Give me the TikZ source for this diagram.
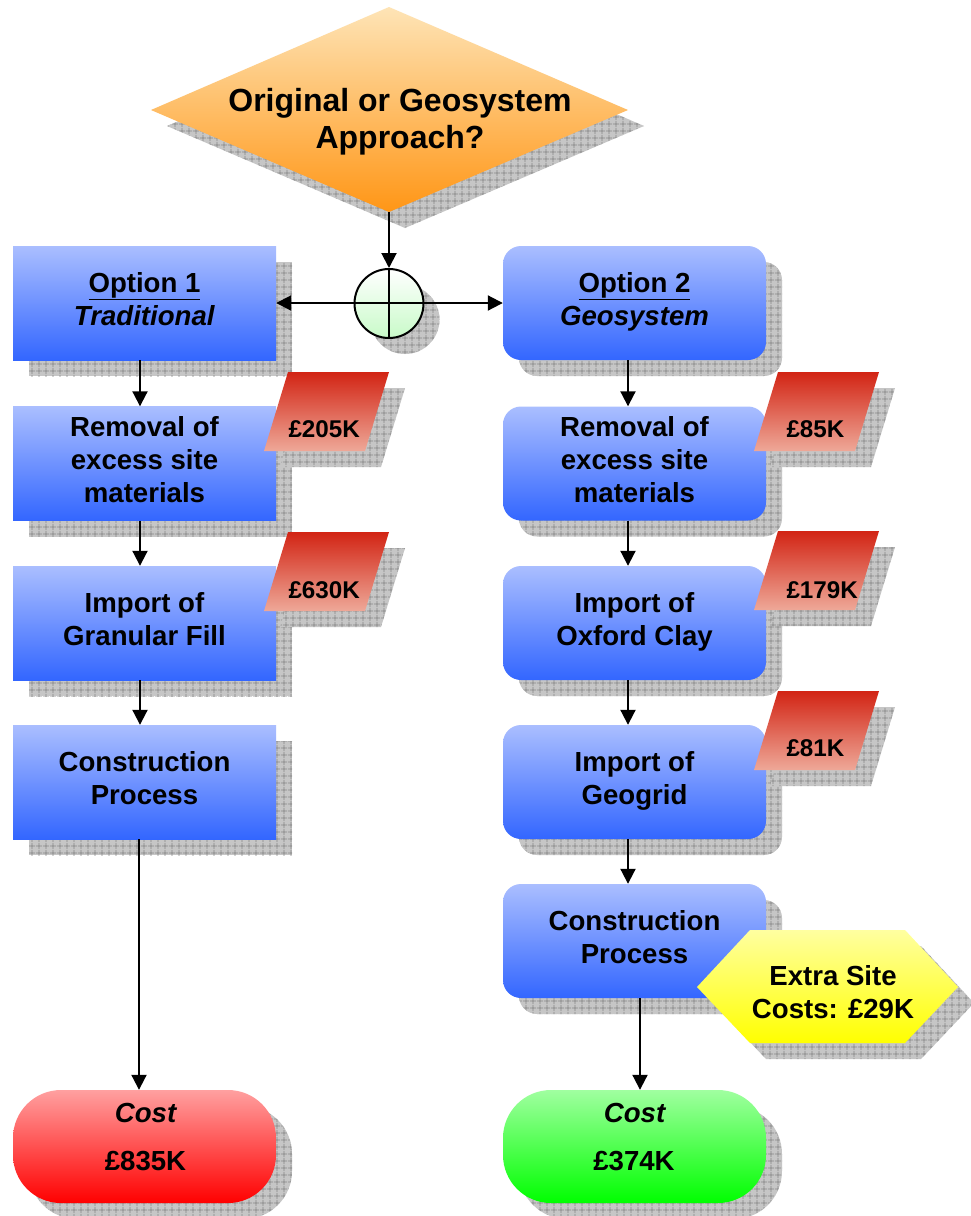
\documentclass[tikz,border=0pt]{standalone}
\usepackage{fontspec}
\setmainfont{Liberation Sans}
\usetikzlibrary{arrows.meta,shadows,patterns.meta}

\definecolor{boxtop}{RGB}{170,190,255}
\definecolor{boxbot}{RGB}{51,102,255}
\definecolor{diatop}{RGB}{254,228,182}
\definecolor{diabot}{RGB}{255,150,22}
\definecolor{partop}{RGB}{210,36,20}
\definecolor{parbot}{RGB}{238,168,152}
\definecolor{redtop}{RGB}{255,160,160}
\definecolor{redbot}{RGB}{255,0,0}
\definecolor{grntop}{RGB}{160,255,160}
\definecolor{grnbot}{RGB}{0,255,0}
\definecolor{hextop}{RGB}{255,255,160}
\definecolor{hexbot}{RGB}{255,255,0}
\definecolor{cirbot}{RGB}{200,250,200}
\definecolor{shadefill}{RGB}{198,198,198}
\definecolor{shadegrid}{RGB}{135,135,135}

\tikzset{
  gridshadow/.style={
    general shadow={shadow xshift=16pt,shadow yshift=-16pt,fill=shadefill},
    general shadow={shadow xshift=16pt,shadow yshift=-16pt,
      pattern={Hatch[angle=0,distance=6.5pt,line width=0.7pt]},pattern color=shadegrid}},
  stepbox/.style={rectangle,minimum width=263pt,minimum height=114pt,inner sep=0pt,
    top color=boxtop,bottom color=boxbot,gridshadow,align=center,
    font=\bfseries\fontsize{27.6}{33}\selectfont,text depth=8pt},
  roundbox/.style={stepbox,rounded corners=18pt},
  costend/.style={rectangle,rounded corners=48pt,minimum width=263pt,
    minimum height=113pt,inner sep=0pt,gridshadow},
  junction/.style={circle,minimum size=69pt,inner sep=0pt,draw,line width=2pt,
    top color=white,bottom color=cirbot,gridshadow},
  tip/.tip={Triangle[width=15pt,length=15pt]},
  flow/.style={line width=2pt,-tip},
  twoway/.style={line width=2pt,tip-tip},
  tagshape/.style={top color=partop,bottom color=parbot,gridshadow},
  tagtext/.style={anchor=base west,font=\bfseries\fontsize{24.2}{28}\selectfont},
  costtext/.style={anchor=base,font=\bfseries\fontsize{27.6}{33}\selectfont},
  pics/costtag/.style={code={
    \path[tagshape] (24,0) -- (125,0) -- (101,79) -- (0,79) -- cycle;}}
}

\begin{document}
\begin{tikzpicture}[x=1pt,y=-1pt]
  \path[use as bounding box,fill=white] (0,0) rectangle (970,1216);

  % decision
  \path[gridshadow,top color=diatop,bottom color=diabot]
    (389,7) -- (628,110) -- (389,212) -- (151,110) -- cycle;
  \node[font=\bfseries\fontsize{32}{37}\selectfont,align=center] (ask) at (400,121.5)
    {Original or Geosystem\\Approach?};
  \coordinate (askbot) at (389,212);

  % junction
  \node[junction] (jn) at (389,303.5) {};

  % traditional route
  \node[stepbox] (opt1) at (144.5,303) {\underline{Option 1}\\\textit{Traditional}};
  \node[stepbox] (rem1) at (144.5,463.5) {Removal of\\excess site\\materials};
  \node[stepbox] (imp1) at (144.5,623) {Import of\\Granular Fill};
  \node[stepbox] (con1) at (144.5,782) {Construction\\Process};
  \node[costend,top color=redtop,bottom color=redbot] (cost1) at (144.5,1146.5) {};

  % geosystem route
  \node[roundbox] (opt2) at (634.5,303) {\underline{Option 2}\\\textit{Geosystem}};
  \node[roundbox] (rem2) at (634.5,463.5) {Removal of\\excess site\\materials};
  \node[roundbox] (imp2) at (634.5,623) {Import of\\Oxford Clay};
  \node[roundbox] (geo2) at (634.5,782) {Import of\\Geogrid};
  \node[roundbox] (con2) at (634.5,941) {Construction\\Process};
  \node[costend,top color=grntop,bottom color=grnbot] (cost2) at (634.5,1146.5) {};

  % connectors
  \draw[flow] (askbot) -- (jn.north);
  \draw[line width=2pt] (jn.north) -- (jn.south);
  \draw[twoway] (opt1.east) -- (opt2.west);

  \draw[flow] ([xshift=-4.5pt]opt1.south) -- ([xshift=-4.5pt]rem1.north);
  \draw[flow] ([xshift=-4.5pt]rem1.south) -- ([xshift=-4.5pt]imp1.north);
  \draw[flow] ([xshift=-4.5pt]imp1.south) -- ([xshift=-4.5pt]con1.north);
  \draw[flow] ([xshift=-5.5pt]con1.south) -- ([xshift=-5.5pt]cost1.north);

  \draw[flow] ([xshift=-6.5pt]opt2.south) -- ([xshift=-6.5pt]rem2.north);
  \draw[flow] ([xshift=-6.5pt]rem2.south) -- ([xshift=-6.5pt]imp2.north);
  \draw[flow] ([xshift=-6.5pt]imp2.south) -- ([xshift=-6.5pt]geo2.north);
  \draw[flow] ([xshift=-6.5pt]geo2.south) -- ([xshift=-6.5pt]con2.north);
  \draw[flow] ([xshift=5.5pt]con2.south) -- ([xshift=5.5pt]cost2.north);

  % cost tags
  \pic at (264,372) {costtag};
  \pic at (264,532) {costtag};
  \pic at (754,372) {costtag};
  \pic at (754,531) {costtag};
  \pic at (754,691) {costtag};
  \node[tagtext] (t205) at (285,437) {£205K};
  \node[tagtext] (t630) at (285,598) {£630K};
  \node[tagtext] (t85) at (783,437) {£85K};
  \node[tagtext] (t179) at (783,598) {£179K};
  \node[tagtext] (t81) at (783,756) {£81K};

  % extra costs
  \path[gridshadow,top color=hextop,bottom color=hexbot]
    (697,987) -- (750,930) -- (905,930) -- (958,987) -- (905,1043) -- (750,1043) -- cycle;
  \node[align=center,font=\bfseries\fontsize{27.6}{33}\selectfont] (extra) at (833,992)
    {Extra Site\\Costs: £29K};

  % totals
  \node[costtext] (c1a) at (146,1122) {\textit{Cost}};
  \node[costtext] (c1b) at (145.5,1170) {£835K};
  \node[costtext] (c2a) at (635,1122) {\textit{Cost}};
  \node[costtext] (c2b) at (634,1170) {£374K};
\end{tikzpicture}
\end{document}
